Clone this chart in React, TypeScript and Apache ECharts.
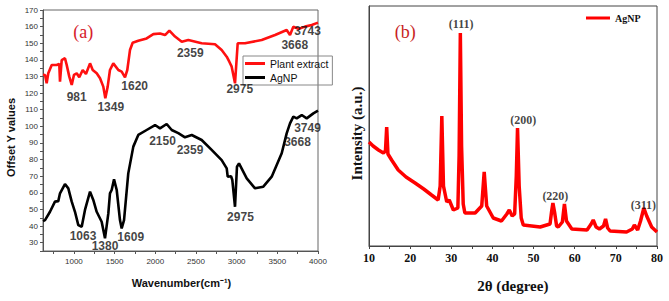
import React, { useEffect, useRef } from "react";
import * as echarts from "echarts";

// ---------- Panel (a): FTIR ----------
const plantExtract: [number, number][] = [
  [620, 131], [645, 130.9], [665, 125.9], [685, 131.9], [727, 136.9], [788, 136.9], [820, 137.6],
  [829, 126.9], [850, 139.9], [890, 141], [911, 137], [943, 129.9], [973, 124.9], [1001, 131],
  [1034, 131.9], [1066, 129.5], [1108, 133.9], [1148, 131.5], [1198, 137.9], [1231, 133.9],
  [1280, 131.9], [1321, 128.9], [1361, 123.9], [1386, 116.9], [1415, 123.9], [1443, 133.9],
  [1484, 137.9], [1546, 133.9], [1587, 132.9], [1628, 129.5], [1656, 133.9], [1689, 145.9],
  [1722, 150.3], [1791, 151.5], [1894, 152.9], [1976, 155.5], [2058, 155.9], [2120, 154.9],
  [2173, 157.6], [2243, 154], [2325, 150.9], [2406, 152], [2570, 150], [2734, 149.4],
  [2816, 145.9], [2878, 141.9], [2910, 138.9], [2939, 135.9], [2980, 125.9], [3013, 150],
  [3103, 150], [3308, 152], [3472, 155], [3615, 158], [3656, 155], [3697, 160], [3758, 158.6],
  [3840, 160], [3923, 161], [4000, 162.4],
];

const agnpFtir: [number, number][] = [
  [620, 43], [645, 43.6], [706, 48.6], [767, 54.7], [808, 55], [829, 59.7], [890, 65.3],
  [931, 62.7], [973, 54.7], [1013, 48.6], [1054, 40.6], [1096, 39.6], [1136, 49.7],
  [1198, 60.7], [1238, 55.7], [1280, 48.6], [1341, 42.6], [1382, 32.6], [1423, 47.6],
  [1443, 59.7], [1464, 61.7], [1493, 68.1], [1526, 61.7], [1566, 43.6], [1587, 38.6],
  [1616, 43.6], [1668, 71.7], [1730, 87.8], [1791, 94.8], [1894, 97.8], [1997, 100.8],
  [2058, 98.8], [2140, 101.4], [2202, 97.8], [2283, 95.9], [2365, 93.4], [2448, 94.8],
  [2570, 91.8], [2693, 85.8], [2816, 79.7], [2878, 74.7], [2890, 69.7], [2931, 70],
  [2947, 67.7], [2980, 51.6], [3004, 75.7], [3029, 77.7], [3124, 68.7], [3226, 62.7],
  [3328, 63.7], [3431, 69.7], [3554, 83.8], [3615, 95.8], [3656, 101.8], [3697, 105.8],
  [3738, 104.8], [3800, 106.8], [3861, 104.8], [3943, 107.8], [4000, 109.4],
];

const plantPeakLabels: [number, number, string][] = [
  [1034, 117.6, "981"], [1453, 111.5, "1349"], [1747, 124.3, "1620"], [2430, 144.3, "2359"],
  [3038, 122.3, "2975"], [3714, 149, "3668"], [3871, 157.5, "3743"],
];
const agnpPeakLabels: [number, number, string][] = [
  [1112, 34, "1063"], [1382, 28, "1380"], [1698, 33.6, "1609"], [2089, 91.4, "2150"],
  [2427, 85.8, "2359"], [3047, 45.3, "2975"], [3748, 90.4, "3668"], [3871, 99.2, "3749"],
];

const wnTicks = [750, 1000, 1250, 1500, 1750, 2000, 2250, 2500, 2750, 3000, 3250, 3500, 3750, 4000];
const wnLabels = [1000, 1500, 2000, 2500, 3000, 3500, 4000];
const offTicks = [25, 30, 35, 40, 45, 50, 55, 60, 65, 70, 75, 80, 85, 90, 95, 100, 105, 110, 115, 120, 125, 130, 135, 140, 145, 150, 155, 160, 165, 170];
const offLabels = [30, 40, 50, 60, 70, 80, 90, 100, 110, 120, 130, 140, 150, 160, 170];

// ---------- Panel (b): XRD ----------
const xrd: [number, number][] = [
  [10, 104], [11, 100], [12.3, 96], [13.5, 93], [14.0, 95], [14.3, 119], [14.6, 92], [15.5, 86],
  [17.1, 76], [19, 69], [21.2, 63], [23.3, 57], [25.2, 51], [26.8, 46], [27.3, 60], [27.7, 130],
  [28.1, 60], [28.9, 44], [29.5, 46], [30.5, 36], [31.6, 38], [31.9, 90], [32.2, 213], [32.5, 100],
  [32.9, 42], [33.3, 33], [35.8, 33], [37.4, 40], [38.0, 74], [38.6, 40], [40.2, 28], [42.2, 25],
  [43.5, 32], [44.1, 36], [44.8, 30], [45.4, 32], [45.8, 70], [46.1, 118], [46.5, 60], [47.0, 28],
  [47.5, 21], [51.6, 19], [54.0, 22], [54.4, 35], [54.7, 43], [55.1, 34], [55.6, 20], [56.0, 19],
  [57.0, 24], [57.5, 42], [58.0, 25], [59.3, 17], [63.0, 16], [64.0, 22], [64.5, 26], [65.2, 19],
  [66.0, 17], [67.0, 20], [67.5, 27], [68.0, 18], [68.6, 15], [72.6, 14], [74.0, 17], [74.5, 21],
  [75.3, 16], [76.0, 25], [76.8, 38], [77.5, 30], [78.7, 19], [80, 14],
];
const xrdPeakLabels: [number, number, string][] = [
  [32.4, 221.7, "(111)"], [47.5, 126, "(200)"], [55.3, 50, "(220)"], [76.7, 41, "(311)"],
];
const thetaTicks = [10, 15, 20, 25, 30, 35, 40, 45, 50, 55, 60, 65, 70, 75, 80];
const thetaLabels = [10, 20, 30, 40, 50, 60, 70, 80];

const NARROW = "'Liberation Sans Narrow', 'Liberation Sans', Arial, sans-serif";
const SANS = "'Liberation Sans', Arial, sans-serif";
const SERIF = "'Liberation Serif', 'Times New Roman', serif";

const plain = (v: number) => String(v);

export default function App() {
  const ref = useRef<HTMLDivElement>(null);
  useEffect(() => {
    if (!ref.current) return;
    const chart = echarts.init(ref.current, null, { renderer: "svg" });
    const labelSeries = (data: [number, number, string][], axis: number, font: any) => ({
      type: "scatter",
      xAxisIndex: axis,
      yAxisIndex: axis,
      data,
      symbolSize: 0,
      silent: true,
      z: 5,
      label: {
        show: true,
        position: "inside",
        formatter: (p: any) => p.data[2],
        color: "#111",
        ...font,
      },
    });
    chart.setOption({
      animation: false,
      backgroundColor: "#ffffff",
      grid: [
        { left: 43, top: 10, width: 275, height: 241, show: true, borderColor: "#666", borderWidth: 1, backgroundColor: "transparent", outerBoundsMode: "none" },
        { left: 369, top: 6, width: 288, height: 240, show: true, borderColor: "#444", borderWidth: 1, backgroundColor: "transparent", outerBoundsMode: "none" },
      ],
      xAxis: [
        {
          type: "value", gridIndex: 0, min: 620, max: 4000,
          axisLine: { show: true, lineStyle: { color: "#555" } },
          axisTick: { show: true, length: 3, customValues: wnTicks, lineStyle: { color: "#555" } },
          axisLabel: { customValues: wnLabels, formatter: plain, fontFamily: NARROW, fontSize: 8, color: "#333", margin: 6 },
          splitLine: { show: false },
        },
        {
          type: "value", gridIndex: 1, min: 10, max: 80,
          axisLine: { show: true, lineStyle: { color: "#444" } },
          axisTick: { show: true, length: 3, customValues: thetaTicks, lineStyle: { color: "#444" } },
          axisLabel: { customValues: thetaLabels, formatter: plain, fontFamily: SERIF, fontWeight: "bold", fontSize: 12, color: "#111", margin: 6 },
          splitLine: { show: false },
        },
      ],
      yAxis: [
        {
          type: "value", gridIndex: 0, min: 25, max: 170,
          axisLine: { show: true, lineStyle: { color: "#555" } },
          axisTick: { show: true, length: 3, customValues: offTicks, lineStyle: { color: "#555" } },
          axisLabel: { customValues: offLabels, formatter: plain, fontFamily: NARROW, fontSize: 8, color: "#333", margin: 5 },
          splitLine: { show: false },
        },
        {
          type: "value", gridIndex: 1, min: 0, max: 240,
          axisLine: { show: true, lineStyle: { color: "#444" } },
          axisTick: { show: false },
          axisLabel: { show: false },
          splitLine: { show: false },
        },
      ],
      legend: [
        {
          data: ["Plant extract", "AgNP"],
          orient: "vertical", left: 243, top: 56,
          icon: "rect", itemWidth: 20, itemHeight: 3, itemGap: 3,
          padding: [2, 4, 2, 2],
          borderColor: "#888", borderWidth: 1,
          selectedMode: false,
          textStyle: { fontFamily: NARROW, fontSize: 10.5, color: "#111", lineHeight: 10 },
        },
        {
          data: ["AgNP (XRD)"],
          formatter: () => "AgNP",
          left: 586, top: 13,
          icon: "rect", itemWidth: 24, itemHeight: 3,
          padding: 0,
          selectedMode: false,
          textStyle: { fontFamily: SERIF, fontWeight: "bold", fontSize: 10, color: "#111" },
        },
      ],
      series: [
        { name: "Plant extract", type: "line", xAxisIndex: 0, yAxisIndex: 0, data: plantExtract, showSymbol: false, color: "#ff1010", lineStyle: { width: 2.6, color: "#ff1010" } },
        { name: "AgNP", type: "line", xAxisIndex: 0, yAxisIndex: 0, data: agnpFtir, showSymbol: false, color: "#000000", lineStyle: { width: 2.6, color: "#000000" } },
        { name: "AgNP (XRD)", type: "line", xAxisIndex: 1, yAxisIndex: 1, data: xrd, showSymbol: false, color: "#ff0000", lineStyle: { width: 3.5, color: "#ff0000" } },
        labelSeries(plantPeakLabels, 0, { fontFamily: NARROW, fontWeight: "bold", fontSize: 12 }),
        labelSeries(agnpPeakLabels, 0, { fontFamily: NARROW, fontWeight: "bold", fontSize: 12 }),
        labelSeries(xrdPeakLabels, 1, { fontFamily: SERIF, fontWeight: "bold", fontSize: 12, color: "#111" }),
      ],
      graphic: [
        { type: "text", x: 83.3, y: 31.7, style: { text: "(a)", font: `18px ${SERIF}`, fill: "#d6202a", align: "center", verticalAlign: "middle" } },
        { type: "text", x: 405.3, y: 31.7, style: { text: "(b)", font: `18px ${SERIF}`, fill: "#c81e24", align: "center", verticalAlign: "middle" } },
        { type: "text", x: 11, y: 137.5, rotation: Math.PI / 2, style: { text: "Offset Y values", font: `bold 11px ${SANS}`, fill: "#111", align: "center", verticalAlign: "middle" } },
        { type: "text", x: 181.5, y: 283, style: { text: "Wavenumber(cm⁻¹)", font: `bold 11px ${NARROW}`, fill: "#111", align: "center", verticalAlign: "middle" } },
        { type: "text", x: 357, y: 133.5, rotation: Math.PI / 2, style: { text: "Intensity (a.u.)", font: `bold 15px ${SERIF}`, fill: "#111", align: "center", verticalAlign: "middle" } },
        { type: "text", x: 512.8, y: 285.7, style: { text: "2θ (degree)", font: `bold 15px ${SERIF}`, fill: "#111", align: "center", verticalAlign: "middle" } },
      ],
    });
    return () => chart.dispose();
  }, []);
  return (
    <div
      ref={ref}
      style={{ position: "absolute", left: 0, top: 0, width: 669, height: 301, background: "#fff" }}
    />
  );
}
